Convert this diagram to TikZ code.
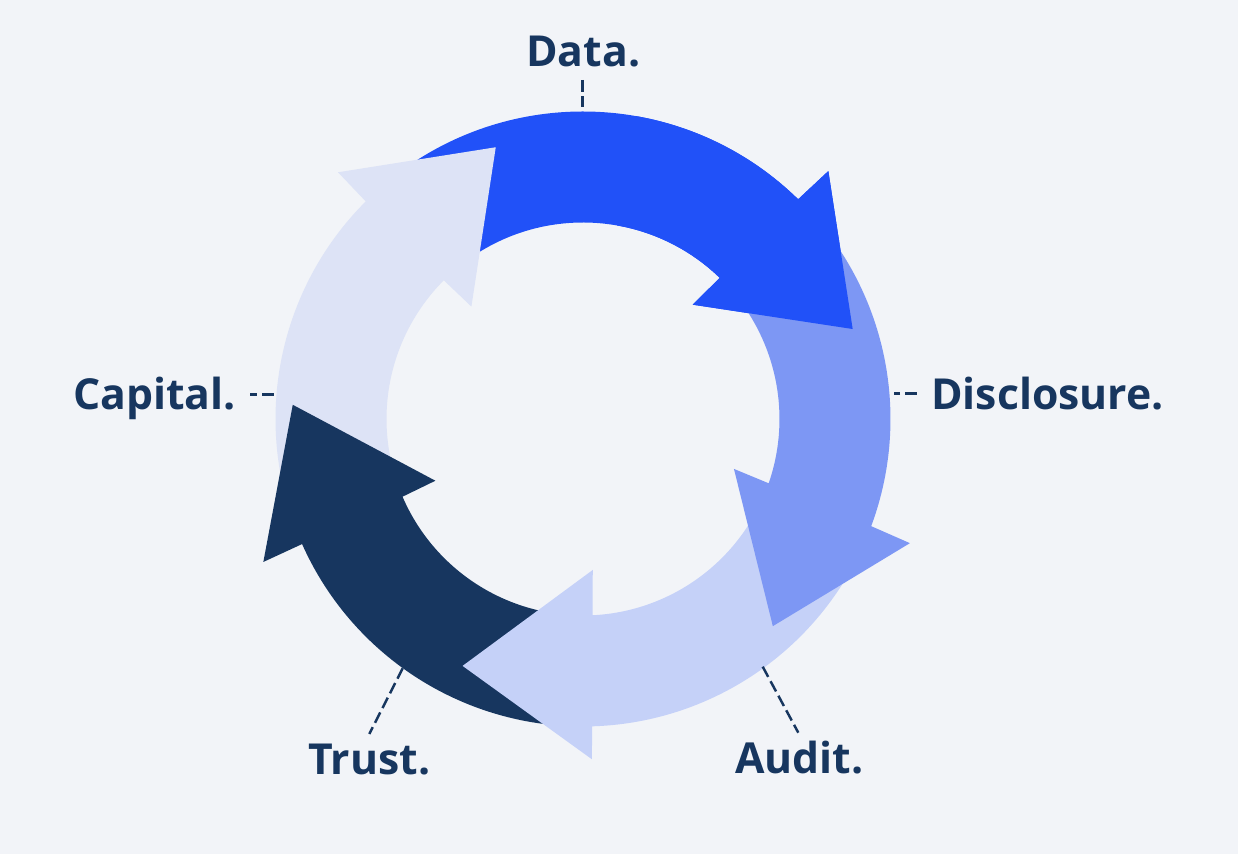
\documentclass[tikz,border=0pt]{standalone}
\usepackage{fontspec}
\setmainfont{Open Sans}
\definecolor{pagebg}{HTML}{F2F4F8}
\definecolor{ink}{HTML}{17365F}
\definecolor{datablue}{HTML}{2151F8}
\definecolor{discblue}{HTML}{7D97F4}
\definecolor{auditblue}{HTML}{C5D1F8}
\definecolor{trustnavy}{HTML}{17365F}
\definecolor{capblue}{HTML}{DDE3F6}
% #1 colour, #2 tail angle, #3 outer notch angle, #4 inner notch angle, #5 outer barb, #6 tip, #7 inner barb
\newcommand{\cyclearrow}[7]{\fill[#1] (#2:307.5) arc[start angle=#2,end angle=#3,radius=307.5] -- #5 -- #6 -- #7 -- (#4:196.5) arc[start angle=#4,end angle=#2,radius=196.5] -- cycle;}

\begin{document}
\begin{tikzpicture}[x=0.02cm,y=0.02cm,stagetext/.style={text=ink,inner sep=0pt,font=\fontsize{24.3}{29}\selectfont\bfseries},leader/.style={draw=ink,line width=1.4pt,dash pattern=on 6.6pt off 2.8pt}]
\fill[pagebg] (0,0) rectangle (1238,854);
\begin{scope}[shift={(583,435)}]
\cyclearrow{datablue}{126}{45.6}{45.9}{(45.3:348.8)}{(18.45:284.3)}{(46.2:158.4)}
\cyclearrow{capblue}{194.5}{134.96}{135.1}{(134.8:347.7)}{(107.8:285.4)}{(134.8:158.4)}
\cyclearrow{trustnavy}{-96.8}{-156}{-156.7}{(-155.9:350.2)}{(-182.8:290.6)}{(-157.3:160)}
\cyclearrow{auditblue}{-28}{-88.3}{-87.2}{(-88.5:340.4)}{(-116:274.7)}{(-86.3:151.3)}
\cyclearrow{discblue}{36.5}{-20.4}{-19.1}{(-20.8:349.7)}{(-47.5:281)}{(-18.3:159)}
\cyclearrow{datablue}{80}{45.6}{45.9}{(45.3:348.8)}{(18.45:284.3)}{(46.2:158.4)}
\end{scope}
\node[stagetext,anchor=base] (data) at (583.3,787.3) {Data.};
\node[stagetext,anchor=base west] (disclosure) at (931,444.7) {Disclosure.};
\node[stagetext,anchor=base east] (capital) at (236,444.7) {Capital.};
\node[stagetext,anchor=base west] (trust) at (308,79) {Trust.};
\node[stagetext,anchor=base west] (audit) at (735,80) {Audit.};
\coordinate (dataLead) at (582.7,774);
\coordinate (dataRim) at (582.7,746.7);
\coordinate (discLead) at (916.7,460.5);
\coordinate (discRim) at (894,460.5);
\coordinate (capRim) at (273.5,459.7);
\coordinate (capLead) at (250,459.7);
\coordinate (trustRim) at (402.7,185.7);
\coordinate (trustLead) at (369.3,120);
\coordinate (auditRim) at (762.7,187.3);
\coordinate (auditLead) at (798.3,121.3);
\draw[leader] (dataLead) -- (dataRim);
\draw[leader] (discLead) -- (discRim);
\draw[leader] (capRim) -- (capLead);
\draw[leader] (trustRim) -- (trustLead);
\draw[leader] (auditRim) -- (auditLead);
\end{tikzpicture}
\end{document}
